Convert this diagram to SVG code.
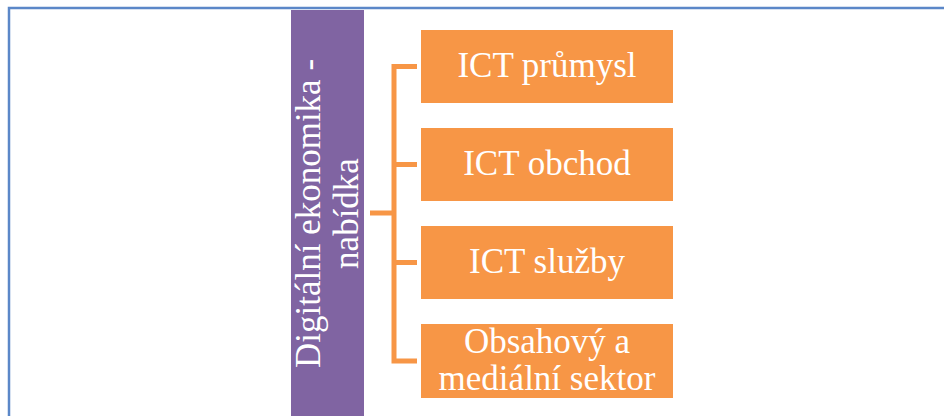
<svg xmlns="http://www.w3.org/2000/svg" width="944" height="416" viewBox="0 0 944 416">
<style>
.box{fill:#F79646}
.lbl{font-family:"Liberation Serif","Times New Roman",serif;font-size:35px;fill:#FFFFFF;text-anchor:middle}
.conn{fill:none;stroke:#F79646;stroke-width:5}
</style>
<rect width="944" height="416" fill="#FFFFFF"/>
<polyline points="9,416 9,8 944,8" fill="none" stroke="#5B87C8" stroke-width="2.5"/>
<g id="root">
<rect x="291" y="10" width="73" height="406" fill="#8064A2"/>
<text class="lbl" transform="translate(320,213.5) rotate(-90)">Digitální ekonomika -</text>
<text class="lbl" transform="translate(358,213.5) rotate(-90)">nabídka</text>
</g>
<g id="connectors">
<path class="conn" d="M370,213 H394 M417,66.5 H394 V361 H417 M394,164.5 H417 M394,262.5 H417"/>
</g>
<g id="n1"><rect class="box" x="421" y="30" width="252" height="73"/><text class="lbl" x="547" y="77">ICT průmysl</text></g>
<g id="n2"><rect class="box" x="421" y="128" width="252" height="73"/><text class="lbl" x="547" y="175">ICT obchod</text></g>
<g id="n3"><rect class="box" x="421" y="226" width="252" height="73"/><text class="lbl" x="547" y="273">ICT služby</text></g>
<g id="n4"><rect class="box" x="421" y="324" width="252" height="74"/><text class="lbl" x="547" y="353">Obsahový a</text><text class="lbl" x="547" y="390">mediální sektor</text></g>
</svg>
